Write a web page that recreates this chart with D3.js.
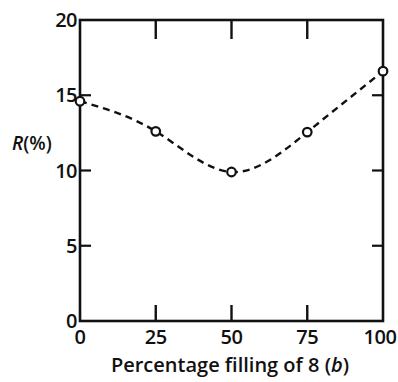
<!DOCTYPE html>
<html lang="en">
<head>
<meta charset="UTF-8">
<script src="https://d3js.org/d3.v7.min.js"></script>
<style>
  body { margin: 0; background: #fff; }
  text { font-family: "Open Sans", "DejaVu Sans", sans-serif; fill: #111; }
</style>
</head>
<body>
<svg width="398" height="382"></svg>
<script>
    // data
    const filling = [0, 25, 50, 75, 100];
    const rValues = [14.6, 12.6, 9.9, 12.55, 16.6];
    const xTicks = [0, 25, 50, 75, 100];
    const yTicks = [0, 5, 10, 15, 20];

    let svg = d3.select("svg");
    const padL = 80, padR = 383, padT = 20, padB = 321;

    let x = d3.scaleLinear().domain([0, 100]).range([padL, padR]);
    let y = d3.scaleLinear().domain([0, 20]).range([padB, padT]);

    // frame
    svg.append("rect")
        .attr("x", padL).attr("y", padT)
        .attr("width", padR - padL).attr("height", padB - padT)
        .attr("fill", "none").attr("stroke", "#111").attr("stroke-width", 2.6);

    // inner ticks top / bottom
    let inner = xTicks.filter(d => d > 0 && d < 100);
    svg.selectAll(".tt").data(inner).enter().append("line")
        .attr("x1", d => x(d)).attr("x2", d => x(d))
        .attr("y1", padT).attr("y2", padT + 19)
        .attr("stroke", "#111").attr("stroke-width", 2.4);
    svg.selectAll(".bt").data(inner).enter().append("line")
        .attr("x1", d => x(d)).attr("x2", d => x(d))
        .attr("y1", padB).attr("y2", padB - 16)
        .attr("stroke", "#111").attr("stroke-width", 2.4);

    // inner ticks left / right
    let innerY = yTicks.filter(d => d > 0 && d < 20);
    svg.selectAll(".lt").data(innerY).enter().append("line")
        .attr("x1", padL).attr("x2", padL + 11)
        .attr("y1", d => y(d)).attr("y2", d => y(d))
        .attr("stroke", "#111").attr("stroke-width", 2.2);
    svg.selectAll(".rt").data(innerY).enter().append("line")
        .attr("x1", padR).attr("x2", padR - 11)
        .attr("y1", d => y(d)).attr("y2", d => y(d))
        .attr("stroke", "#111").attr("stroke-width", 2.2);

    // tick labels
    svg.selectAll(".xl").data(xTicks).enter().append("text")
        .attr("x", d => x(d) - (d === 100 ? 3 : 0)).attr("y", padB + 23)
        .attr("text-anchor", "middle")
        .style("font-size", "20px").style("font-weight", "600")
        .style("letter-spacing", "-0.5px")
        .text(d => d);
    svg.selectAll(".yl").data(yTicks).enter().append("text")
        .attr("x", padL - 3).attr("y", d => y(d) + 7)
        .attr("text-anchor", "end")
        .style("font-size", "20px").style("font-weight", "600")
        .style("letter-spacing", "-0.5px")
        .text(d => d);

    // axis titles
    let yt = svg.append("text").attr("x", 12).attr("y", 150)
        .style("font-size", "19px").style("font-weight", "600");
    yt.append("tspan").style("font-style", "italic").text("R");
    yt.append("tspan").text("(%)");

    let xt = svg.append("text").attr("x", 230).attr("y", 372)
        .attr("text-anchor", "middle")
        .style("font-size", "20px").style("font-weight", "600");
    xt.append("tspan").text("Percentage filling of 8 (");
    xt.append("tspan").style("font-style", "italic").text("b");
    xt.append("tspan").text(")");

    // dashed curve
    let pts = filling.map((f, i) => [f, rValues[i]]);
    let line = d3.line()
        .x(d => x(d[0])).y(d => y(d[1]))
        .curve(d3.curveNatural);
    svg.append("path")
        .attr("d", line(pts))
        .attr("fill", "none").attr("stroke", "#111")
        .attr("stroke-width", 2.4).attr("stroke-dasharray", "7,5");

    // open markers
    svg.selectAll(".pt").data(pts).enter().append("circle")
        .attr("cx", d => x(d[0])).attr("cy", d => y(d[1]))
        .attr("r", 4.3)
        .attr("fill", "#fff").attr("stroke", "#111").attr("stroke-width", 2.2);
</script>
</body>
</html>
